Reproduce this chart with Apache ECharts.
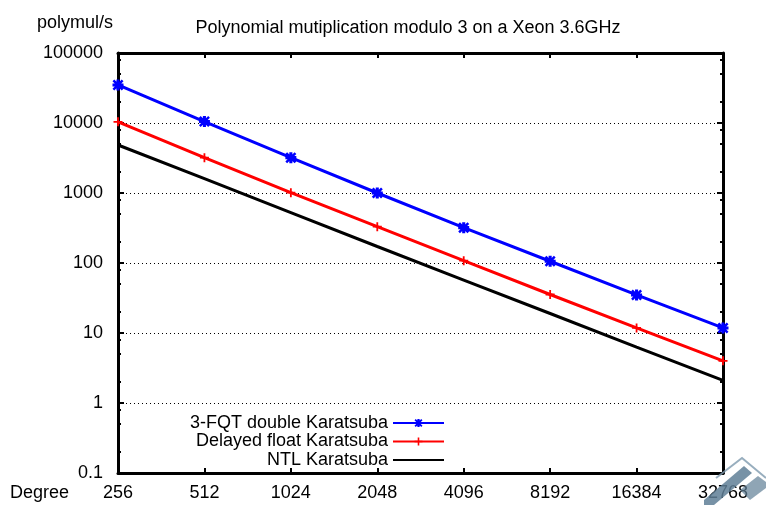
<!DOCTYPE html>
<html>
<head>
<meta charset="utf-8">
<script src="https://cdn.jsdelivr.net/npm/echarts@6/dist/echarts.min.js"></script>
<style>
  html, body { margin: 0; padding: 0; background: #fff; }
  #main { width: 766px; height: 505px; }
</style>
</head>
<body>
<div id="main"></div>
<script>
// degrees of the polynomials (x axis)
var degrees = ['256', '512', '1024', '2048', '4096', '8192', '16384', '32768'];

// polymul/s
var fqtDouble = [35000, 10500, 3200, 1000, 320, 106, 35, 11.8];
var delayedFloat = [10400, 3200, 1010, 330, 108, 35.5, 11.8, 4.0];
var ntlKaratsuba = [4850, 1600, 525, 172, 57, 19, 6.3, 2.1];

var seriesNames = ['3-FQT double Karatsuba', 'Delayed float Karatsuba', 'NTL Karatsuba'];

// minor ticks of the log axis (gnuplot style)
var minorTicks = [];
[0.1, 1, 10, 100, 1000, 10000].forEach(function (d) {
    minorTicks.push(d * 2, d * 5, d * 8);
});

var font = 'Liberation Sans, Arial, sans-serif';
var chart = echarts.init(document.getElementById('main'), null, { renderer: 'canvas' });

// gnuplot point types: asterisk (blue) and plus (red)
var starPath = 'path://M3.6,0L6.4,0L6.4,3.6L10,3.6L10,6.4L6.4,6.4L6.4,10L3.6,10L3.6,6.4L0,6.4L0,3.6L3.6,3.6Z' +
    'M0,1.6L1.6,0L10,8.4L8.4,10Z M8.4,0L10,1.6L1.6,10L0,8.4Z';
var plusPath = 'path://M4,0L6,0L6,4L10,4L10,6L6,6L6,10L4,10L4,6L0,6L0,4L4,4Z';

function logAxis(pos, opts) {
    var ax = {
        type: 'log',
        logBase: 10,
        min: 0.1,
        max: 100000,
        position: pos,
        axisLine: { show: true, lineStyle: { color: '#000', width: 3 } },
        axisTick: { show: true, inside: true, length: 6, lineStyle: { color: '#000', width: 2 } },
        axisLabel: { show: false },
        splitLine: { show: false }
    };
    return Object.assign(ax, opts || {});
}

var option = {
    backgroundColor: '#fff',
    animation: false,
    title: {
        text: 'Polynomial mutiplication modulo 3 on a Xeon 3.6GHz',
        left: 403,
        top: 14,
        textAlign: 'center',
        textStyle: { fontFamily: font, fontSize: 18, fontWeight: 'normal', color: '#000' }
    },
    graphic: [
        { type: 'text', left: 37, top: 14,
          style: { text: 'polymul/s', font: '18px ' + font, fill: '#000' } },
        { type: 'text', left: 10, top: 484,
          style: { text: 'Degree', font: '18px ' + font, fill: '#000' } },
        // the little watermark in the lower right corner
        { type: 'polygon', z: 100,
          shape: { points: [[704, 500], [744, 466], [752, 473], [714, 505], [704, 505]] },
          style: { fill: '#5f7f96', opacity: 0.85 } },
        { type: 'polyline', z: 100,
          shape: { points: [[716, 478], [742, 458], [766, 478]] },
          style: { stroke: '#7e9aae', lineWidth: 2, fill: null, opacity: 0.8 } },
        { type: 'polygon', z: 100,
          shape: { points: [[740, 490], [758, 476], [766, 482], [766, 488], [750, 500]] },
          style: { fill: '#5f7f96', opacity: 0.7 } }
    ],
    legend: {
        orient: 'vertical',
        align: 'right',
        right: 316,
        top: 409,
        itemWidth: 51,
        itemHeight: 10,
        itemGap: 0.5,
        data: [
            { name: seriesNames[0] },
            { name: seriesNames[1] },
            { name: seriesNames[2], itemStyle: { color: 'rgba(0,0,0,0)', borderWidth: 0 } }
        ],
        textStyle: { fontFamily: font, fontSize: 18, color: '#000', lineHeight: 18 }
    },
    grid: { left: 118, right: 43, top: 53, bottom: 32 },
    xAxis: [
        {
            type: 'category',
            data: degrees,
            boundaryGap: false,
            position: 'bottom',
            axisLine: { lineStyle: { color: '#000', width: 3 } },
            axisTick: { inside: true, length: 5, lineStyle: { color: '#000', width: 2 } },
            axisLabel: { fontFamily: font, fontSize: 18, color: '#000', margin: 11 },
            splitLine: { show: false }
        },
        {
            type: 'category',
            data: degrees,
            boundaryGap: false,
            position: 'top',
            axisLine: { lineStyle: { color: '#000', width: 3 } },
            axisTick: { inside: true, length: 5, lineStyle: { color: '#000', width: 2 } },
            axisLabel: { show: false },
            splitLine: { show: false }
        }
    ],
    yAxis: [
        logAxis('left', {
            axisLabel: {
                show: true, fontFamily: font, fontSize: 18, color: '#000', margin: 15,
                formatter: function (v) { return String(v); }
            },
            splitLine: { show: true, lineStyle: { color: '#000', width: 1, type: [1, 3] } }
        }),
        logAxis('right'),
        logAxis('left', {
            axisLine: { show: false },
            axisTick: { show: true, inside: true, length: 3, customValues: minorTicks,
                        lineStyle: { color: '#000', width: 2 } }
        }),
        logAxis('right', {
            axisLine: { show: false },
            axisTick: { show: true, inside: true, length: 3, customValues: minorTicks,
                        lineStyle: { color: '#000', width: 2 } }
        })
    ],
    series: [
        {
            name: seriesNames[0],
            type: 'line',
            data: fqtDouble,
            symbol: starPath,
            symbolSize: 11,
            showAllSymbol: true,
            color: '#0000ff',
            lineStyle: { width: 3, color: '#0000ff' },
            itemStyle: { color: '#0000ff' },
            z: 4
        },
        {
            name: seriesNames[1],
            type: 'line',
            data: delayedFloat,
            symbol: plusPath,
            symbolSize: 9,
            showAllSymbol: true,
            color: '#ff0000',
            lineStyle: { width: 3, color: '#ff0000' },
            itemStyle: { color: '#ff0000' },
            z: 3
        },
        {
            name: seriesNames[2],
            type: 'line',
            data: ntlKaratsuba,
            symbol: 'none',
            color: '#000000',
            lineStyle: { width: 3, color: '#000000' },
            z: 2
        }
    ]
};

chart.setOption(option);
</script>
</body>
</html>
